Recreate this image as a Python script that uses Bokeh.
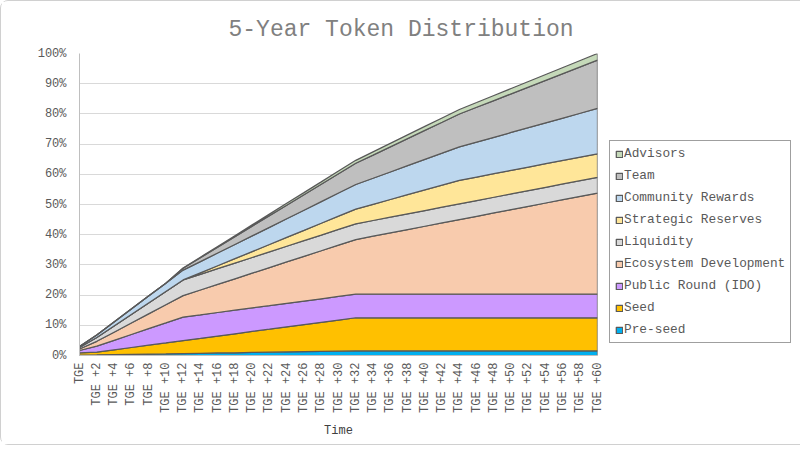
import math
from bokeh.plotting import figure
from bokeh.models import Range1d, FixedTicker, Legend, LegendItem
from bokeh.embed import file_html
from bokeh.resources import INLINE

# ---- data (percent of total supply, cumulative unlocked per category) ----
months = list(range(0, 61, 2))
tick_labels = ["TGE"] + [f"TGE +{m}" for m in months[1:]]
y_ticks = list(range(0, 101, 10))
y_tick_labels = [f"{t}%" for t in y_ticks]

series_names = ["Pre-seed", "Seed", "Public Round (IDO)", "Ecosystem Development",
                "Liquidity", "Strategic Reserves", "Community Rewards", "Team", "Advisors"]

pre_seed = [0.15, 0.23, 0.32, 0.40, 0.49, 0.57, 0.66, 0.74, 0.83, 0.91, 1.00, 1.08, 1.17, 1.25, 1.33, 1.42,
            1.50, 1.50, 1.50, 1.50, 1.50, 1.50, 1.50, 1.50, 1.50, 1.50, 1.50, 1.50, 1.50, 1.50, 1.50]
seed = [0.70, 0.90, 1.57, 2.25, 2.92, 3.59, 4.27, 4.94, 5.61, 6.29, 6.96, 7.63, 8.31, 8.98, 9.65, 10.33,
        11.00, 11.00, 11.00, 11.00, 11.00, 11.00, 11.00, 11.00, 11.00, 11.00, 11.00, 11.00, 11.00, 11.00, 11.00]
public_round = [0.80, 1.97, 3.13, 4.30, 5.47, 6.63, 7.80, 7.80, 7.80, 7.80, 7.80, 7.80, 7.80, 7.80, 7.80, 7.80,
                7.80, 7.80, 7.80, 7.80, 7.80, 7.80, 7.80, 7.80, 7.80, 7.80, 7.80, 7.80, 7.80, 7.80, 7.80]
ecosystem = [0.5, 1.6, 2.7, 3.8, 4.9, 6.0, 7.1, 8.2, 9.3, 10.4, 11.5, 12.6, 13.7, 14.8, 15.9, 17.0,
             18.1, 19.2, 20.3, 21.4, 22.5, 23.6, 24.7, 25.8, 26.9, 28.0, 29.1, 30.2, 31.3, 32.4, 33.5]
liquidity = [0.50, 1.28, 2.07, 2.85, 3.63, 4.42, 5.20, 5.20, 5.20, 5.20, 5.20, 5.20, 5.20, 5.20, 5.20, 5.20,
             5.20, 5.20, 5.20, 5.20, 5.20, 5.20, 5.20, 5.20, 5.20, 5.20, 5.20, 5.20, 5.20, 5.20, 5.20]
strategic = [0.0, 0.0, 0.0, 0.0, 0.0, 0.0, 0.0, 0.49, 0.98, 1.46, 1.95, 2.44, 2.93, 3.41, 3.90, 4.39,
             4.88, 5.36, 5.85, 6.34, 6.83, 7.31, 7.80, 7.80, 7.80, 7.80, 7.80, 7.80, 7.80, 7.80, 7.80]
community = [0.30, 0.79, 1.28, 1.77, 2.26, 2.75, 3.24, 3.73, 4.22, 4.71, 5.20, 5.69, 6.18, 6.67, 7.16, 7.65,
             8.14, 8.63, 9.12, 9.61, 10.10, 10.59, 11.08, 11.57, 12.06, 12.55, 13.04, 13.53, 14.02, 14.51, 15.00]
team = [0.0, 0.0, 0.0, 0.0, 0.0, 0.0, 0.64, 1.28, 1.92, 2.56, 3.20, 3.84, 4.48, 5.12, 5.76, 6.40,
        7.04, 7.68, 8.32, 8.96, 9.60, 10.24, 10.88, 11.52, 12.16, 12.80, 13.44, 14.08, 14.72, 15.36, 16.00]
advisors = [0.0, 0.0, 0.0, 0.0, 0.0, 0.0, 0.09, 0.18, 0.26, 0.35, 0.44, 0.53, 0.62, 0.70, 0.79, 0.88,
            0.97, 1.06, 1.14, 1.23, 1.32, 1.41, 1.50, 1.58, 1.67, 1.76, 1.85, 1.94, 2.02, 2.11, 2.20]

series_values = [pre_seed, seed, public_round, ecosystem, liquidity, strategic, community, team, advisors]
colors = ["#00B0F0", "#FFC000", "#CC99FF", "#F8CBAD", "#D9D9D9", "#FFE699", "#BDD7EE", "#BFBFBF", "#C5D9B9"]

FONT = "Liberation Mono"
TXT = "#595959"

p = figure(frame_width=518, frame_height=302, output_backend="svg", toolbar_location=None,
           x_range=Range1d(0, 60), y_range=Range1d(0, 100),
           min_border_left=78, min_border_right=0, min_border_top=52, min_border_bottom=89)
p.styles = {"border": "1px solid #D0D0D0", "border-radius": "8px"}

p.title.text = "5-Year Token Distribution"
p.title.text_font = FONT
p.title.text_font_size = "23px"
p.title.text_font_style = "normal"
p.title.text_color = "#808080"
p.title.text_line_height = 1.0
p.title.align = "left"
p.title.offset = 149
p.title.standoff = 22

bottom = [0.0] * len(months)
items = []
for name, vals, col in zip(series_names, series_values, colors):
    top = [b + v for b, v in zip(bottom, vals)]
    xs = months + months[::-1]
    ys = top + bottom[::-1]
    r = p.patch(xs, ys, fill_color=col, line_color="#595959", line_width=1.25)
    items.append(LegendItem(label=name, renderers=[r]))
    bottom = top

p.outline_line_color = None
p.xgrid.grid_line_color = None
p.ygrid.ticker = FixedTicker(ticks=y_ticks)
p.ygrid.grid_line_color = "#D9D9D9"

xa = p.xaxis[0]
xa.ticker = FixedTicker(ticks=months)
xa.major_label_overrides = {m: lab for m, lab in zip(months, tick_labels)}
xa.major_label_orientation = math.pi / 2
xa.major_label_text_font = FONT
xa.major_label_text_font_size = "12px"
xa.major_label_text_color = TXT
xa.major_label_standoff = 1
xa.major_tick_line_color = None
xa.minor_tick_line_color = None
xa.axis_line_color = "#BFBFBF"
xa.axis_label = "Time"
xa.axis_label_text_font = FONT
xa.axis_label_text_font_size = "12px"
xa.axis_label_text_font_style = "normal"
xa.axis_label_text_color = "#404040"
xa.axis_label_standoff = 8

ya = p.yaxis[0]
ya.ticker = FixedTicker(ticks=y_ticks)
ya.major_label_overrides = {t: lab for t, lab in zip(y_ticks, y_tick_labels)}
ya.major_label_text_font = FONT
ya.major_label_text_font_size = "12px"
ya.major_label_text_color = TXT
ya.major_label_standoff = 7
ya.major_tick_line_color = None
ya.minor_tick_line_color = None
ya.axis_line_color = "#BFBFBF"

legend = Legend(items=items[::-1], location="bottom_left", margin=12,
                label_text_font=FONT, label_text_font_size="12.8px", label_text_color=TXT,
                glyph_width=8, glyph_height=8, label_standoff=1, label_height=15,
                spacing=7, padding=5, border_line_color="#404040", border_line_width=1,
                background_fill_color="white", background_fill_alpha=1.0)
p.add_layout(legend, "right")

open("out.html", "w").write(file_html(p, INLINE))
